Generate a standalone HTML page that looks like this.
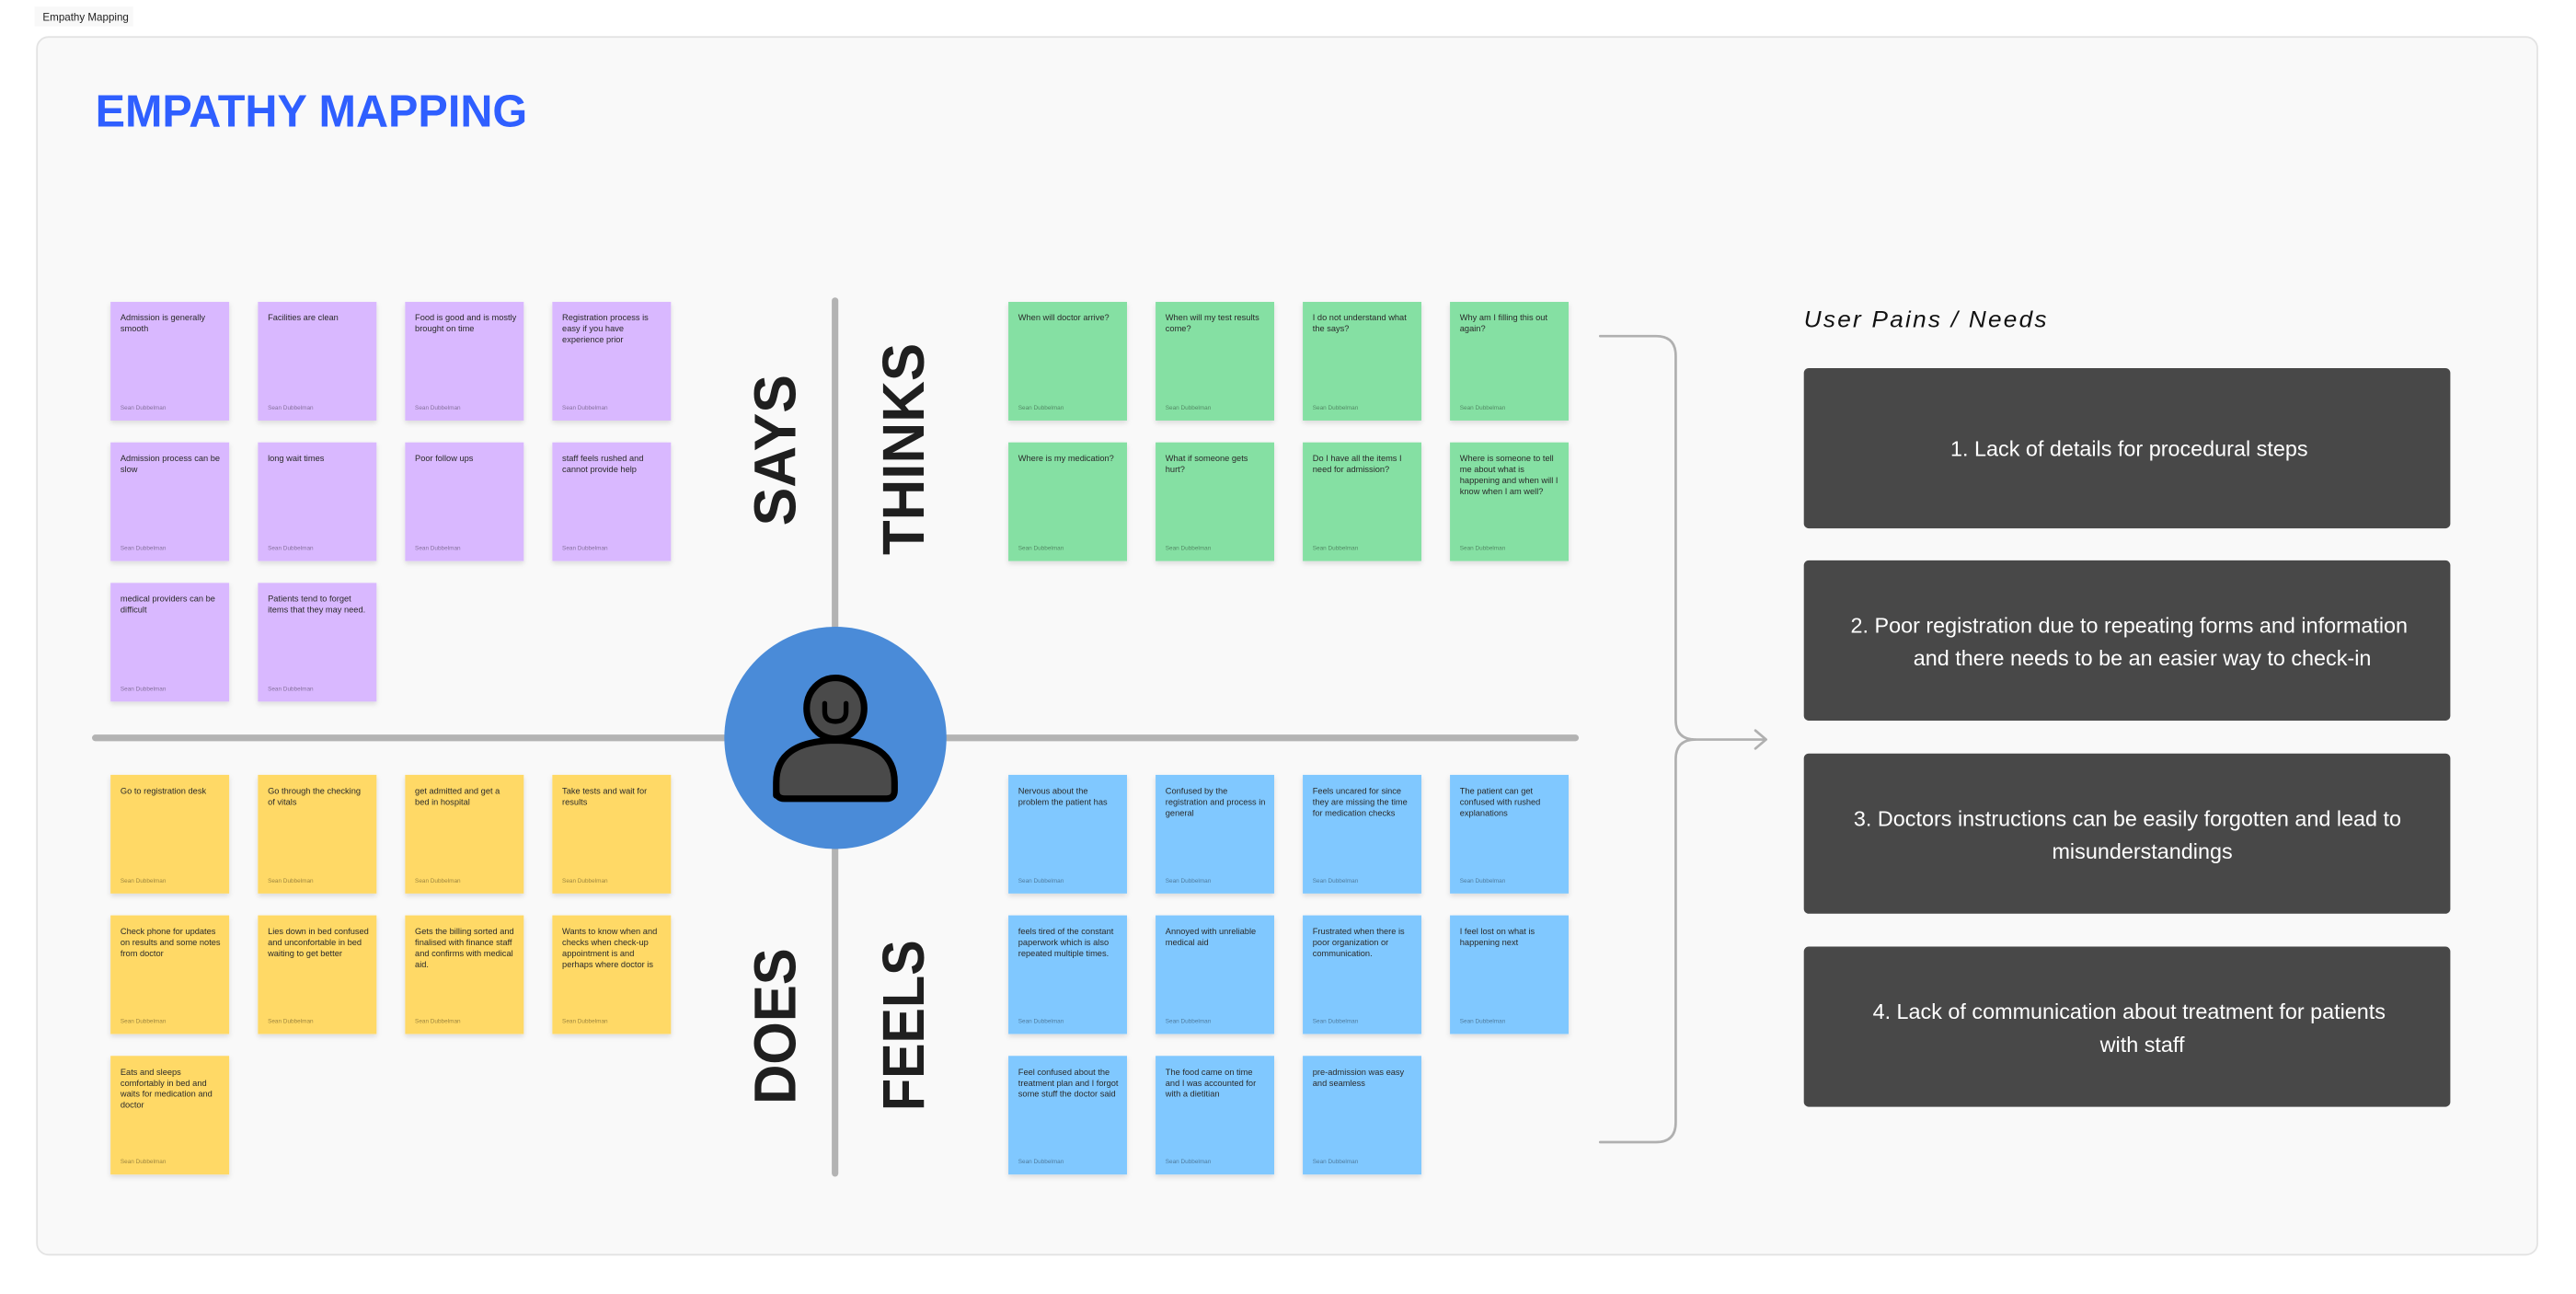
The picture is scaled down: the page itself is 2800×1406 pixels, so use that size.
<!DOCTYPE html>
<html><head><meta charset="utf-8"><style>
html,body{margin:0;padding:0;background:#fff;}
svg{display:block;}
.t{font-family:"Liberation Sans",sans-serif;font-size:5.2px;fill:#2a2a2a;}
.f{font-family:"Liberation Sans",sans-serif;font-size:3.6px;fill:#000;fill-opacity:.4;}
.lab{font-family:"Liberation Sans",sans-serif;font-weight:bold;font-size:36px;fill:#1f1f1f;}
.bx{font-family:"Liberation Sans",sans-serif;font-size:13.1px;fill:#fff;}
</style></head><body>
<svg width="2800" height="1406" viewBox="0 0 1568 787.4" preserveAspectRatio="none" xmlns="http://www.w3.org/2000/svg">
<defs>
<filter id="sh" x="-20%" y="-20%" width="140%" height="150%"><feDropShadow dx="0" dy="1.5" stdDeviation="1.5" flood-color="#000" flood-opacity="0.12"/></filter>
</defs>
<rect x="0" y="0" width="1568" height="788" fill="#ffffff"/>
<rect x="21" y="4" width="60" height="12" fill="#f8f8f8"/>
<text x="26" y="12.5" font-family="Liberation Sans, sans-serif" font-size="6.5" fill="#222">Empathy Mapping</text>
<rect x="22.5" y="22.5" width="1522" height="741" rx="7" fill="#f9f9f9" stroke="#e3e3e3" stroke-width="1"/>
<text x="58" y="77" font-family="Liberation Sans, sans-serif" font-weight="bold" font-size="27.5" fill="#2f5fff" textLength="263" lengthAdjust="spacingAndGlyphs">EMPATHY MAPPING</text>

<line x1="508.3" y1="183" x2="508.3" y2="714" stroke="#b3b3b3" stroke-width="4" stroke-linecap="round"/>
<line x1="58" y1="449" x2="959" y2="449" stroke="#b3b3b3" stroke-width="4" stroke-linecap="round"/>

<text class="lab" transform="translate(484,274) rotate(-90)" text-anchor="middle" textLength="92" lengthAdjust="spacingAndGlyphs">SAYS</text>
<text class="lab" transform="translate(562.3,273.3) rotate(-90)" text-anchor="middle" textLength="129" lengthAdjust="spacingAndGlyphs">THINKS</text>
<text class="lab" transform="translate(484,624.5) rotate(-90)" text-anchor="middle" textLength="95" lengthAdjust="spacingAndGlyphs">DOES</text>
<text class="lab" transform="translate(562.3,624) rotate(-90)" text-anchor="middle" textLength="104" lengthAdjust="spacingAndGlyphs">FEELS</text>

<circle cx="508.5" cy="449" r="67.6" fill="#4a8bd8"/>
<ellipse cx="508.5" cy="431" rx="17.5" ry="18.5" fill="#4a4a4a" stroke="#000" stroke-width="4"/>
<path d="M502,428 V433 Q502,439 508.5,439 Q515,439 515,433 V428" fill="none" stroke="#000" stroke-width="3" stroke-linecap="round"/>
<path d="M472.5,484 V476 Q472.5,451 508.5,450.5 Q544.5,451 544.5,476 V481 Q544.5,486 539.5,486 H477.5 Q472.5,486 472.5,481 Z" fill="#4a4a4a" stroke="#000" stroke-width="4" stroke-linejoin="round"/>

<g filter="url(#sh)" fill="#d9b8ff">
<rect x="67.3" y="183.7" width="72.2" height="72.2"/><rect x="157" y="183.7" width="72.2" height="72.2"/><rect x="246.6" y="183.7" width="72.2" height="72.2"/><rect x="336.2" y="183.7" width="72.2" height="72.2"/>
<rect x="67.3" y="269.2" width="72.2" height="72.2"/><rect x="157" y="269.2" width="72.2" height="72.2"/><rect x="246.6" y="269.2" width="72.2" height="72.2"/><rect x="336.2" y="269.2" width="72.2" height="72.2"/>
<rect x="67.3" y="354.7" width="72.2" height="72.2"/><rect x="157" y="354.7" width="72.2" height="72.2"/>
</g>
<g filter="url(#sh)" fill="#85e0a3">
<rect x="613.8" y="183.7" width="72.2" height="72.2"/><rect x="703.4" y="183.7" width="72.2" height="72.2"/><rect x="793" y="183.7" width="72.2" height="72.2"/><rect x="882.6" y="183.7" width="72.2" height="72.2"/>
<rect x="613.8" y="269.2" width="72.2" height="72.2"/><rect x="703.4" y="269.2" width="72.2" height="72.2"/><rect x="793" y="269.2" width="72.2" height="72.2"/><rect x="882.6" y="269.2" width="72.2" height="72.2"/>
</g>
<g filter="url(#sh)" fill="#ffd966">
<rect x="67.3" y="471.5" width="72.2" height="72.2"/><rect x="157" y="471.5" width="72.2" height="72.2"/><rect x="246.6" y="471.5" width="72.2" height="72.2"/><rect x="336.2" y="471.5" width="72.2" height="72.2"/>
<rect x="67.3" y="557" width="72.2" height="72.2"/><rect x="157" y="557" width="72.2" height="72.2"/><rect x="246.6" y="557" width="72.2" height="72.2"/><rect x="336.2" y="557" width="72.2" height="72.2"/>
<rect x="67.3" y="642.5" width="72.2" height="72.2"/>
</g>
<g filter="url(#sh)" fill="#80c8ff">
<rect x="613.8" y="471.5" width="72.2" height="72.2"/><rect x="703.4" y="471.5" width="72.2" height="72.2"/><rect x="793" y="471.5" width="72.2" height="72.2"/><rect x="882.6" y="471.5" width="72.2" height="72.2"/>
<rect x="613.8" y="557" width="72.2" height="72.2"/><rect x="703.4" y="557" width="72.2" height="72.2"/><rect x="793" y="557" width="72.2" height="72.2"/><rect x="882.6" y="557" width="72.2" height="72.2"/>
<rect x="613.8" y="642.5" width="72.2" height="72.2"/><rect x="703.4" y="642.5" width="72.2" height="72.2"/><rect x="793" y="642.5" width="72.2" height="72.2"/>
</g>

<g class="t">
<text x="73.3" y="195"><tspan x="73.3">Admission is generally</tspan><tspan x="73.3" dy="6.7">smooth</tspan></text>
<text x="163" y="195">Facilities are clean</text>
<text x="252.6" y="195"><tspan x="252.6">Food is good and is mostly</tspan><tspan x="252.6" dy="6.7">brought on time</tspan></text>
<text x="342.2" y="195"><tspan x="342.2">Registration process is</tspan><tspan x="342.2" dy="6.7">easy if you have</tspan><tspan x="342.2" dy="6.7">experience prior</tspan></text>
<text x="73.3" y="280.5"><tspan x="73.3">Admission process can be</tspan><tspan x="73.3" dy="6.7">slow</tspan></text>
<text x="163" y="280.5">long wait times</text>
<text x="252.6" y="280.5">Poor follow ups</text>
<text x="342.2" y="280.5"><tspan x="342.2">staff feels rushed and</tspan><tspan x="342.2" dy="6.7">cannot provide help</tspan></text>
<text x="73.3" y="366"><tspan x="73.3">medical providers can be</tspan><tspan x="73.3" dy="6.7">difficult</tspan></text>
<text x="163" y="366"><tspan x="163">Patients tend to forget</tspan><tspan x="163" dy="6.7">items that they may need.</tspan></text>
<text x="619.8" y="195">When will doctor arrive?</text>
<text x="709.4" y="195"><tspan x="709.4">When will my test results</tspan><tspan x="709.4" dy="6.7">come?</tspan></text>
<text x="799" y="195"><tspan x="799">I do not understand what</tspan><tspan x="799" dy="6.7">the says?</tspan></text>
<text x="888.6" y="195"><tspan x="888.6">Why am I filling this out</tspan><tspan x="888.6" dy="6.7">again?</tspan></text>
<text x="619.8" y="280.5">Where is my medication?</text>
<text x="709.4" y="280.5"><tspan x="709.4">What if someone gets</tspan><tspan x="709.4" dy="6.7">hurt?</tspan></text>
<text x="799" y="280.5"><tspan x="799">Do I have all the items I</tspan><tspan x="799" dy="6.7">need for admission?</tspan></text>
<text x="888.6" y="280.5"><tspan x="888.6">Where is someone to tell</tspan><tspan x="888.6" dy="6.7">me about what is</tspan><tspan x="888.6" dy="6.7">happening and when will I</tspan><tspan x="888.6" dy="6.7">know when I am well?</tspan></text>
<text x="73.3" y="483">Go to registration desk</text>
<text x="163" y="483"><tspan x="163">Go through the checking</tspan><tspan x="163" dy="6.7">of vitals</tspan></text>
<text x="252.6" y="483"><tspan x="252.6">get admitted and get a</tspan><tspan x="252.6" dy="6.7">bed in hospital</tspan></text>
<text x="342.2" y="483"><tspan x="342.2">Take tests and wait for</tspan><tspan x="342.2" dy="6.7">results</tspan></text>
<text x="73.3" y="568.5"><tspan x="73.3">Check phone for updates</tspan><tspan x="73.3" dy="6.7">on results and some notes</tspan><tspan x="73.3" dy="6.7">from doctor</tspan></text>
<text x="163" y="568.5"><tspan x="163">Lies down in bed confused</tspan><tspan x="163" dy="6.7">and unconfortable in bed</tspan><tspan x="163" dy="6.7">waiting to get better</tspan></text>
<text x="252.6" y="568.5"><tspan x="252.6">Gets the billing sorted and</tspan><tspan x="252.6" dy="6.7">finalised with finance staff</tspan><tspan x="252.6" dy="6.7">and confirms with medical</tspan><tspan x="252.6" dy="6.7">aid.</tspan></text>
<text x="342.2" y="568.5"><tspan x="342.2">Wants to know when and</tspan><tspan x="342.2" dy="6.7">checks when check-up</tspan><tspan x="342.2" dy="6.7">appointment is and</tspan><tspan x="342.2" dy="6.7">perhaps where doctor is</tspan></text>
<text x="73.3" y="654"><tspan x="73.3">Eats and sleeps</tspan><tspan x="73.3" dy="6.7">comfortably in bed and</tspan><tspan x="73.3" dy="6.7">waits for medication and</tspan><tspan x="73.3" dy="6.7">doctor</tspan></text>
<text x="619.8" y="483"><tspan x="619.8">Nervous about the</tspan><tspan x="619.8" dy="6.7">problem the patient has</tspan></text>
<text x="709.4" y="483"><tspan x="709.4">Confused by the</tspan><tspan x="709.4" dy="6.7">registration and process in</tspan><tspan x="709.4" dy="6.7">general</tspan></text>
<text x="799" y="483"><tspan x="799">Feels uncared for since</tspan><tspan x="799" dy="6.7">they are missing the time</tspan><tspan x="799" dy="6.7">for medication checks</tspan></text>
<text x="888.6" y="483"><tspan x="888.6">The patient can get</tspan><tspan x="888.6" dy="6.7">confused with rushed</tspan><tspan x="888.6" dy="6.7">explanations</tspan></text>
<text x="619.8" y="568.5"><tspan x="619.8">feels tired of the constant</tspan><tspan x="619.8" dy="6.7">paperwork which is also</tspan><tspan x="619.8" dy="6.7">repeated multiple times.</tspan></text>
<text x="709.4" y="568.5"><tspan x="709.4">Annoyed with unreliable</tspan><tspan x="709.4" dy="6.7">medical aid</tspan></text>
<text x="799" y="568.5"><tspan x="799">Frustrated when there is</tspan><tspan x="799" dy="6.7">poor organization or</tspan><tspan x="799" dy="6.7">communication.</tspan></text>
<text x="888.6" y="568.5"><tspan x="888.6">I feel lost on what is</tspan><tspan x="888.6" dy="6.7">happening next</tspan></text>
<text x="619.8" y="654"><tspan x="619.8">Feel confused about the</tspan><tspan x="619.8" dy="6.7">treatment plan and I forgot</tspan><tspan x="619.8" dy="6.7">some stuff the doctor said</tspan></text>
<text x="709.4" y="654"><tspan x="709.4">The food came on time</tspan><tspan x="709.4" dy="6.7">and I was accounted for</tspan><tspan x="709.4" dy="6.7">with a dietitian</tspan></text>
<text x="799" y="654"><tspan x="799">pre-admission was easy</tspan><tspan x="799" dy="6.7">and seamless</tspan></text>
</g>

<g class="f">
<text x="73.3" y="249.2">Sean Dubbelman</text><text x="163" y="249.2">Sean Dubbelman</text><text x="252.6" y="249.2">Sean Dubbelman</text><text x="342.2" y="249.2">Sean Dubbelman</text>
<text x="73.3" y="334.7">Sean Dubbelman</text><text x="163" y="334.7">Sean Dubbelman</text><text x="252.6" y="334.7">Sean Dubbelman</text><text x="342.2" y="334.7">Sean Dubbelman</text>
<text x="73.3" y="420.2">Sean Dubbelman</text><text x="163" y="420.2">Sean Dubbelman</text>
<text x="619.8" y="249.2">Sean Dubbelman</text><text x="709.4" y="249.2">Sean Dubbelman</text><text x="799" y="249.2">Sean Dubbelman</text><text x="888.6" y="249.2">Sean Dubbelman</text>
<text x="619.8" y="334.7">Sean Dubbelman</text><text x="709.4" y="334.7">Sean Dubbelman</text><text x="799" y="334.7">Sean Dubbelman</text><text x="888.6" y="334.7">Sean Dubbelman</text>
<text x="73.3" y="537">Sean Dubbelman</text><text x="163" y="537">Sean Dubbelman</text><text x="252.6" y="537">Sean Dubbelman</text><text x="342.2" y="537">Sean Dubbelman</text>
<text x="73.3" y="622.5">Sean Dubbelman</text><text x="163" y="622.5">Sean Dubbelman</text><text x="252.6" y="622.5">Sean Dubbelman</text><text x="342.2" y="622.5">Sean Dubbelman</text>
<text x="73.3" y="708">Sean Dubbelman</text>
<text x="619.8" y="537">Sean Dubbelman</text><text x="709.4" y="537">Sean Dubbelman</text><text x="799" y="537">Sean Dubbelman</text><text x="888.6" y="537">Sean Dubbelman</text>
<text x="619.8" y="622.5">Sean Dubbelman</text><text x="709.4" y="622.5">Sean Dubbelman</text><text x="799" y="622.5">Sean Dubbelman</text><text x="888.6" y="622.5">Sean Dubbelman</text>
<text x="619.8" y="708">Sean Dubbelman</text><text x="709.4" y="708">Sean Dubbelman</text><text x="799" y="708">Sean Dubbelman</text>
</g>

<g fill="none" stroke="#b0b0b0" stroke-width="1.5" stroke-linecap="round" stroke-linejoin="round">
<path d="M974,204.5 H1008 Q1020,204.5 1020,216.5 V438 Q1020,450 1032,450 Q1020,450 1020,462 V683 Q1020,695 1008,695 H974"/>
<path d="M1032,450 H1075 M1068.5,444.5 L1075,450 L1068.5,455.5"/>
</g>

<text x="1098" y="199" font-family="Liberation Sans, sans-serif" font-style="italic" font-size="14" fill="#111" letter-spacing="1.2" textLength="149" lengthAdjust="spacingAndGlyphs">User Pains / Needs</text>

<g fill="#484848">
<rect x="1098" y="224" width="393.5" height="97.5" rx="3"/>
<rect x="1098" y="341" width="393.5" height="97.5" rx="3"/>
<rect x="1098" y="458.5" width="393.5" height="97.5" rx="3"/>
<rect x="1098" y="576" width="393.5" height="97.5" rx="3"/>
</g>
<g class="bx" text-anchor="middle">
<text x="1296" y="277.5">1. Lack of details for procedural steps</text>
<text x="1296" y="385">2. Poor registration due to repeating forms and information</text>
<text x="1304" y="405">and there needs to be an easier way to check-in</text>
<text x="1295" y="502.5">3. Doctors instructions can be easily forgotten and lead to</text>
<text x="1304" y="522.5">misunderstandings</text>
<text x="1296" y="620">4. Lack of communication about treatment for patients</text>
<text x="1304" y="640">with staff</text>
</g>
</svg>
</body></html>
